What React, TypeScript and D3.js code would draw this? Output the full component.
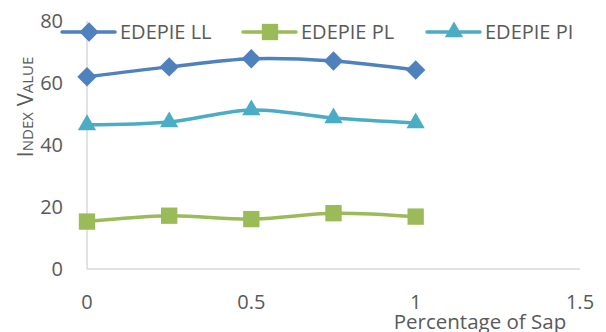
import React from "react";
import * as d3 from "d3";

const xValues = [0, 0.25, 0.5, 0.75, 1];
const seriesNames = ["EDEPIE LL", "EDEPIE PL", "EDEPIE PI"];
const valuesLL = [62, 65.2, 67.8, 67.1, 64.2];
const valuesPL = [15.3, 17.2, 16.1, 18, 16.9];
const valuesPI = [46.5, 47.4, 51.3, 48.7, 47.1];
const xTicks = [0, 0.5, 1, 1.5];
const yTicks = [0, 20, 40, 60, 80];
const colors = ["#4F81BD", "#9BBB59", "#4BACC6"];
const shapes = [d3.symbolDiamond2, d3.symbolSquare2, d3.symbolTriangle2];

const W = 606;
const H = 332;
const FONT = "'Open Sans', 'Liberation Sans', sans-serif";
const TEXT = "#595959";

export default function App() {
  const x = d3.scaleLinear().domain([0, 1.5]).range([87, 580]);
  const y = d3.scaleLinear().domain([0, 80]).range([269, 21]);
  const series = [valuesLL, valuesPL, valuesPI];
  const line = d3
    .line<number>()
    .x((_, i) => x(xValues[i]))
    .y((d) => y(d))
    .curve(d3.curveCatmullRom.alpha(0.5));
  const symbolSizes = [240, 340, 240];
  const legendX = [62, 243, 427];

  return (
    <svg
      width={W}
      height={H}
      style={{ position: "absolute", left: 0, top: 0, background: "#fff" }}
      fontFamily={FONT}
    >
      {/* axes */}
      <line x1={x(0)} x2={x(0)} y1={y(80)} y2={y(0)} stroke="#d9d9d9" strokeWidth={1.5} />
      <line x1={x(0)} x2={x(1.5)} y1={y(0)} y2={y(0)} stroke="#d9d9d9" strokeWidth={1.5} />

      {yTicks.map((t) => (
        <text key={t} x={63} y={y(t)} dy="0.35em" textAnchor="end" fontSize={20} fill={TEXT}>
          {t}
        </text>
      ))}
      {xTicks.map((t) => (
        <text key={t} x={x(t)} y={302} dy="0.35em" textAnchor="middle" fontSize={20} fill={TEXT}>
          {t}
        </text>
      ))}

      <text
        transform={`translate(33,${107}) rotate(-90)`}
        textAnchor="middle"
        fontSize={22}
        fill={TEXT}
        style={{ fontVariant: "small-caps" }}
      >
        Index Value
      </text>
      <text x={480} y={329} textAnchor="middle" fontSize={20.5} fill={TEXT}>
        Percentage of Sap
      </text>

      {/* series */}
      {series.map((vals, si) => (
        <g key={si}>
          <path d={line(vals) || ""} fill="none" stroke={colors[si]} strokeWidth={3.5} strokeLinecap="round" />
          {vals.map((v, i) => (
            <path
              key={i}
              transform={`translate(${x(xValues[i])},${y(v)})`}
              d={d3.symbol(shapes[si], symbolSizes[si])() || ""}
              fill={colors[si]}
            />
          ))}
        </g>
      ))}

      {/* legend */}
      {seriesNames.map((name, si) => (
        <g key={name} transform={`translate(${legendX[si]},32)`}>
          <line x1={0} x2={53} y1={0} y2={0} stroke={colors[si]} strokeWidth={3.5} strokeLinecap="round" />
          <path transform="translate(27,0)" d={d3.symbol(shapes[si], symbolSizes[si])() || ""} fill={colors[si]} />
          <text x={58} y={0} dy="0.35em" fontSize={20} fill={TEXT}>
            {name}
          </text>
        </g>
      ))}
    </svg>
  );
}
